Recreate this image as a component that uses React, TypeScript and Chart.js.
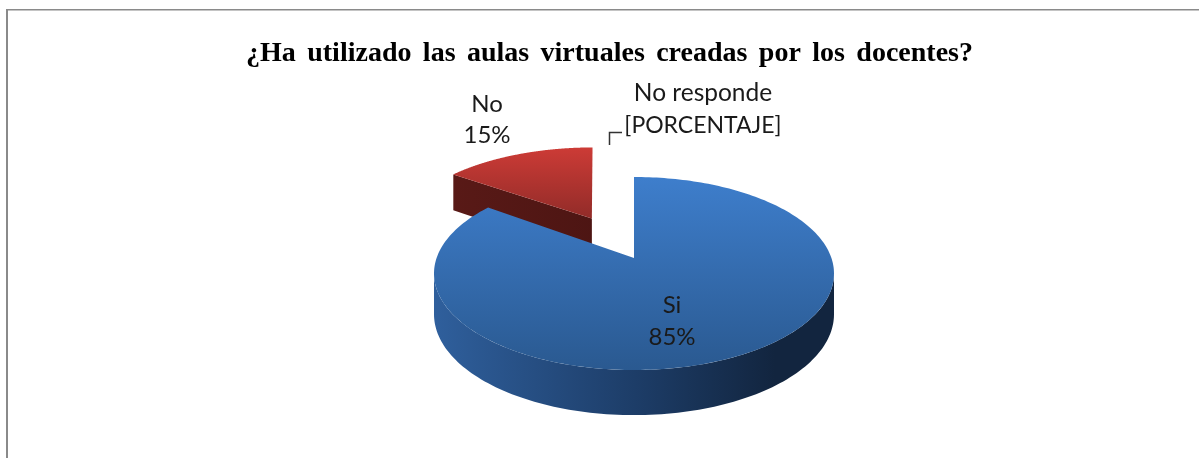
import React, { useEffect, useRef } from "react";
import { Chart, registerables } from "chart.js";

Chart.register(...registerables);

const titleText = "¿Ha utilizado las aulas virtuales creadas por los docentes?";
const categories = ["Si", "No", "No responde"];
const values = [85, 15, 0];
const valueLabels = ["85%", "15%", "[PORCENTAJE]"];
const topColors = [["#3e7ecc", "#2a5990"], ["#cc3b36", "#8c2a27"], ["#9bbb59", "#9bbb59"]];
const wallColors = [["#2f5f9c", "#1d3d68", "#12253f"], ["#5a1a17", "#4a1412", "#3f100e"], ["#6f8a3c", "#6f8a3c", "#6f8a3c"]];

// View parameters of the tilted, perspective disc
const VIEW = { x0: 634, k: 197.4, a: -52.6, b: 258, c: 0.1606, depth: 40, explodeShift: -0.03 };
const project = (u: number, v: number) => {
  const d = 1 + VIEW.c * v;
  return { x: VIEW.x0 + (VIEW.k * u) / d, y: (VIEW.a * v + VIEW.b) / d };
};
const drop = (v: number) => VIEW.depth / (1 + 0.7 * VIEW.c * v);

const pie3d = {
  id: "pie3d",
  beforeDraw(chart: any) {
    const { ctx } = chart;
    ctx.save();
    ctx.fillStyle = "#8a8a8a";
    ctx.fillRect(6, 9, 2, chart.height - 9);
    ctx.fillRect(6, 9, chart.width - 6, 1.5);
    ctx.restore();
    (ctx as any).wordSpacing = "4.4px";
  },
  beforeDatasetsDraw(chart: any) {
    const { ctx } = chart;
    (ctx as any).wordSpacing = "0px";
    const arcs = chart.getDatasetMeta(0).data;
    const order = arcs.map((_: any, i: number) => i).reverse();
    for (const i of order) {
      const arc = arcs[i];
      const { startAngle, endAngle, outerRadius } = arc.getProps(["startAngle", "endAngle", "outerRadius"], true);
      if (endAngle - startAngle < 1e-4) continue;
      const mid = (startAngle + endAngle) / 2;
      const off = (arc.options.offset || 0) / outerRadius;
      const cu = Math.cos(mid) * off;
      const cv = -Math.sin(mid) * off;
      const shift = off > 0 ? VIEW.explodeShift : 0;
      const rim = (a: number) => ({ u: cu + shift + Math.cos(a), v: cv - Math.sin(a) });

      // side walls
      const g = ctx.createLinearGradient(435, 0, 835, 0);
      g.addColorStop(0, wallColors[i][0]);
      g.addColorStop(0.5, wallColors[i][1]);
      g.addColorStop(0.85, wallColors[i][2]);
      ctx.fillStyle = g;
      const wall = (pts: { u: number; v: number }[]) => {
        ctx.beginPath();
        pts.forEach((p, n) => {
          const q = project(p.u, p.v);
          n ? ctx.lineTo(q.x, q.y) : ctx.moveTo(q.x, q.y);
        });
        [...pts].reverse().forEach((p) => {
          const q = project(p.u, p.v);
          ctx.lineTo(q.x, q.y + drop(p.v));
        });
        ctx.closePath();
        ctx.fill();
      };
      const centre = { u: cu, v: cv };
      wall([centre, rim(startAngle)]);
      const a0 = Math.asin(VIEW.c);
      const from = Math.max(startAngle, a0);
      const to = Math.min(endAngle, Math.PI - a0);
      if (to > from) {
        const pts = [];
        for (let n = 0; n <= 120; n++) pts.push(rim(from + ((to - from) * n) / 120));
        wall(pts);
      }

      // top face
      const tg = ctx.createLinearGradient(0, 148 + (i === 0 ? 29 : 0), 0, i === 0 ? 370 : 225);
      tg.addColorStop(0, topColors[i][0]);
      tg.addColorStop(1, topColors[i][1]);
      ctx.fillStyle = tg;
      ctx.beginPath();
      const c0 = project(cu, cv);
      ctx.moveTo(c0.x, c0.y);
      for (let n = 0; n <= 240; n++) {
        const p = rim(startAngle + ((endAngle - startAngle) * n) / 240);
        const q = project(p.u, p.v);
        ctx.lineTo(q.x, q.y);
      }
      ctx.closePath();
      ctx.fill();
    }
    return false;
  },
  afterDraw(chart: any) {
    const { ctx } = chart;
    ctx.save();
    ctx.fillStyle = "#1a1a1a";
    ctx.textAlign = "center";
    ctx.textBaseline = "middle";
    const spots = [[672, 305, 337], [487, 104, 135], [703, 93, 126]];
    categories.forEach((name, i) => {
      ctx.font = i === 2 ? "24.5px Lato" : "24px Lato";
      ctx.fillText(name, spots[i][0], spots[i][1]);
      ctx.font = i === 2 ? "23px Lato" : "24px Lato";
      ctx.fillText(valueLabels[i], spots[i][0], spots[i][2]);
    });
    ctx.strokeStyle = "#333333";
    ctx.lineWidth = 1.5;
    ctx.beginPath();
    ctx.moveTo(609.5, 145);
    ctx.lineTo(609.5, 132.5);
    ctx.lineTo(622, 132.5);
    ctx.stroke();
    ctx.restore();
  },
};

export default function App() {
  const ref = useRef<HTMLCanvasElement | null>(null);
  useEffect(() => {
    const chart = new Chart(ref.current as HTMLCanvasElement, {
      type: "pie",
      plugins: [pie3d],
      data: {
        labels: categories,
        datasets: [{ data: values, backgroundColor: topColors.map((c) => c[0]), offset: [0, 76, 0], borderWidth: 0 }],
      },
      options: {
        animation: false,
        responsive: false,
        layout: { padding: { left: 20 } },
        plugins: {
          legend: { display: false },
          tooltip: { enabled: false },
          title: {
            display: true,
            text: titleText,
            color: "#000000",
            font: { family: "'Liberation Serif'", size: 28, weight: "bold" },
            padding: { top: 37, bottom: 10 },
          },
        },
      },
    } as any);
    return () => chart.destroy();
  }, []);
  return (
    <div style={{ position: "absolute", left: 0, top: 0, width: 1199, height: 458, background: "#ffffff" }}>
      <canvas ref={ref} width={1199} height={458} style={{ display: "block" }} />
    </div>
  );
}
